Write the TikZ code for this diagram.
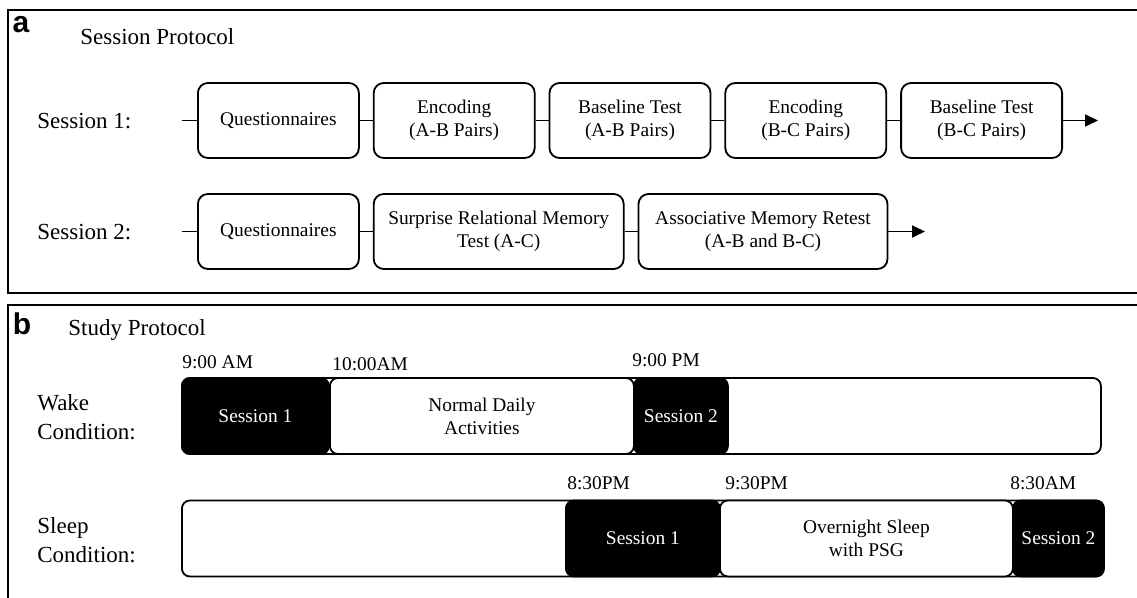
\documentclass[tikz,border=0pt]{standalone}
\usepackage{fontspec}
\setmainfont{Liberation Serif}
\newfontfamily\panelfont{Liberation Sans}
\usetikzlibrary{arrows.meta, positioning}

\begin{document}
\begin{tikzpicture}[
        x=0.5pt, y=-0.5pt,
        node distance=6.5pt,
        stepBox/.style={
            draw,
            line width=0.9pt,
            rounded corners=5pt,
            minimum height=37.5pt,
            align=center,
            inner sep=2pt,
            font=\fontsize{9.7}{11.5}\selectfont
        },
        link/.style={
            line width=0.9pt
        },
        flowArrow/.style={
            -{Triangle[length=6.5pt, width=6pt]},
            line width=0.9pt
        },
        rowLabel/.style={
            anchor=west,
            align=left,
            inner sep=0pt,
            font=\fontsize{11.5}{14.5}\selectfont
        },
        titleText/.style={
            anchor=west,
            inner sep=0pt,
            font=\fontsize{11.5}{14}\selectfont
        },
        panelLetter/.style={
            inner sep=0pt,
            font=\panelfont\bfseries\fontsize{15}{15}\selectfont
        },
        timeBox/.style={
            draw,
            line width=0.9pt,
            rounded corners=4pt,
            minimum height=38pt,
            anchor=west,
            align=center,
            inner sep=0pt,
            font=\fontsize{9.7}{11.5}\selectfont
        },
        sessionBlock/.style={
            timeBox,
            fill=black,
            text=white
        },
        restBlock/.style={
            timeBox,
            fill=white
        },
        timeLabel/.style={
            inner sep=0pt,
            font=\fontsize{9.7}{11}\selectfont
        }
    ]

        \useasboundingbox (0,0) rectangle (1137,598);
        \clip (0,0) rectangle (1137,598);

        % Panel frames
        \draw[line width=1pt] (8,10) rectangle (1150,293);
        \draw[line width=1pt] (8,305) rectangle (1150,620);

        % Panel a: session protocol
        \node[panelLetter] (letterA) at (21,25) {a};
        \node[titleText] (titleA) at (80,37) {Session Protocol};

        \node[rowLabel] (sess1Label) at (37,121) {Session 1:};
        \node[rowLabel] (sess2Label) at (37,232) {Session 2:};

        % Session 1 steps
        \node[stepBox, minimum width=80.5pt, anchor=west] (quest1) at (197,120.5) {Questionnaires};
        \node[stepBox, minimum width=80.5pt, right=of quest1] (encAB) {Encoding\\(A-B Pairs)};
        \node[stepBox, minimum width=80.5pt, right=of encAB] (baseAB) {Baseline Test\\(A-B Pairs)};
        \node[stepBox, minimum width=80.5pt, right=of baseAB] (encBC) {Encoding\\(B-C Pairs)};
        \node[stepBox, minimum width=80.5pt, right=of encBC] (baseBC) {Baseline Test\\(B-C Pairs)};

        \coordinate (start1) at (182,120.5);
        \coordinate (end1) at (1098,120.5);

        \draw[link] (start1) -- (quest1);
        \draw[link] (quest1) -- (encAB);
        \draw[link] (encAB) -- (baseAB);
        \draw[link] (baseAB) -- (encBC);
        \draw[link] (encBC) -- (baseBC);
        \draw[flowArrow] (baseBC) -- (end1);

        % Session 2 steps
        \node[stepBox, minimum width=80.5pt, anchor=west] (quest2) at (197,231.5) {Questionnaires};
        \node[stepBox, minimum width=125pt, right=of quest2] (surprise) {Surprise Relational Memory\\Test (A-C)};
        \node[stepBox, minimum width=124.5pt, right=of surprise] (retest) {Associative Memory Retest\\(A-B and B-C)};

        \coordinate (start2) at (182,231.5);
        \coordinate (end2) at (925,231.5);

        \draw[link] (start2) -- (quest2);
        \draw[link] (quest2) -- (surprise);
        \draw[link] (surprise) -- (retest);
        \draw[flowArrow] (retest) -- (end2);

        % Panel b: study protocol
        \node[panelLetter] (letterB) at (22,324) {b};
        \node[titleText] (titleB) at (68,330) {Study Protocol};

        \node[rowLabel] (wakeLabel) at (37,417) {Wake\\Condition:};
        \node[rowLabel] (sleepLabel) at (37,540) {Sleep\\Condition:};

        % Wake condition timeline
        \node[restBlock, minimum width=459.5pt] (wakeRow) at (181,416) {};
        \node[sessionBlock, minimum width=73.5pt] (wakeS1) at (181,416) {Session 1};
        \node[restBlock, minimum width=152pt] (daily) at (329,416) {Normal Daily\\Activities};
        \node[sessionBlock, minimum width=47pt] (wakeS2) at (633,416) {Session 2};

        \node[timeLabel, above right=4pt and 0.5pt of wakeS1.north west] (t900am) {9:00 AM};
        \node[timeLabel, above right=3pt and 1.5pt of daily.north west] (t1000am) {10:00AM};
        \node[timeLabel, above right=5pt and -0.5pt of wakeS2.north west] (t900pm) {9:00 PM};

        % Sleep condition timeline
        \node[restBlock, minimum width=461pt] (sleepRow) at (181,538.5) {};
        \node[sessionBlock, minimum width=77pt] (sleepS1) at (565,538.5) {Session 1};
        \node[restBlock, minimum width=146.5pt] (night) at (719,538.5) {Overnight Sleep\\with PSG};
        \node[sessionBlock, minimum width=45.5pt] (sleepS2) at (1012,538.5) {Session 2};

        \node[timeLabel, above right=4.5pt and 1pt of sleepS1.north west] (t830pm) {8:30PM};
        \node[timeLabel, above right=4.5pt and 3pt of night.north west] (t930pm) {9:30PM};
        \node[timeLabel, above right=4.5pt and -1pt of sleepS2.north west] (t830am) {8:30AM};

    \end{tikzpicture}
\end{document}
